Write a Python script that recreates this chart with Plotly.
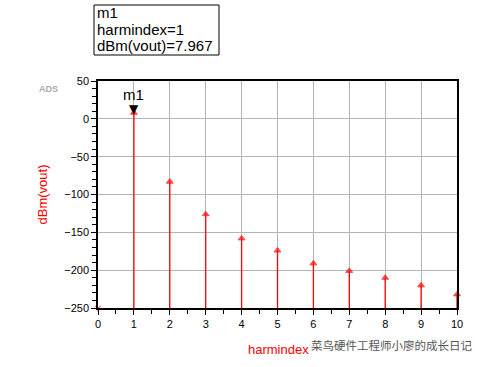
import plotly.graph_objects as go

harmindex = [0, 1, 2, 3, 4, 5, 6, 7, 8, 9, 10]
dbm_vout = [-250, 7.967, -83, -126, -158, -174, -191, -201, -210, -220, -232]
y_ticks = [50, 0, -50, -100, -150, -200, -250]
x_ticks = list(range(0, 11))
marker_name = "m1"
marker_idx = 1

RED = "#ff0000"
FONT = "Liberation Sans, Arial, sans-serif"

# plot area in pixels (for placing the readout box)
L, R, T, B = 98, 457, 81, 308
def px(x):
    return (x - L) / (R - L)
def py(y):
    return (B - y) / (B - T)

stem_x, stem_y = [], []
for h, v in zip(harmindex, dbm_vout):
    stem_x += [h, h, None]
    stem_y += [-250, v, None]

fig = go.Figure()
fig.add_trace(go.Scatter(x=stem_x, y=stem_y, mode="lines",
                         line=dict(color=RED, width=1.3), hoverinfo="skip",
                         showlegend=False))
symbols = ["y-down-open"] + ["triangle-up"] * (len(harmindex) - 1)
sizes = [5] + [6] * (len(harmindex) - 1)
fig.add_trace(go.Scatter(x=harmindex, y=dbm_vout, mode="markers",
                         marker=dict(color=RED, symbol=symbols, size=sizes,
                                     line=dict(color=RED, width=1)),
                         cliponaxis=False, showlegend=False))

# marker m1
fig.add_annotation(x=harmindex[marker_idx], y=dbm_vout[marker_idx], text="▼",
                   showarrow=False, yshift=4, yanchor="middle",
                   font=dict(size=12, color="black", family="DejaVu Sans"))
fig.add_annotation(x=harmindex[marker_idx], y=dbm_vout[marker_idx], text=marker_name,
                   showarrow=False, yshift=18, yanchor="middle",
                   font=dict(size=15, color="black", family=FONT))

# readout box
fig.add_shape(type="rect", xref="paper", yref="paper",
              x0=px(94), x1=px(219), y0=py(55), y1=py(5),
              line=dict(color="black", width=1), fillcolor="white")
lines = [marker_name, f"harmindex={harmindex[marker_idx]}",
         f"dBm(vout)={dbm_vout[marker_idx]:.3f}"]
for i, t in enumerate(lines):
    fig.add_annotation(xref="paper", yref="paper", x=px(95), y=py(13 + 16.5 * i),
                       xanchor="left", yanchor="middle", text=t, showarrow=False,
                       font=dict(size=15, color="black", family=FONT))

fig.add_annotation(xref="paper", yref="paper", x=px(48), y=py(89), text="<b>ADS</b>",
                   xanchor="center", yanchor="middle",
                   showarrow=False, font=dict(size=9, color="#aaaaaa", family=FONT))
fig.add_annotation(xref="paper", yref="paper", x=px(278), y=py(349), text="harmindex",
                   showarrow=False, xanchor="center", yanchor="middle",
                   font=dict(size=13, color=RED, family=FONT))
fig.add_annotation(xref="paper", yref="paper", x=px(474), y=py(345), xanchor="right",
                   yanchor="middle",
                   text="菜鸟硬件工程师小廖的成长日记", showarrow=False,
                   font=dict(size=11.5, color="#555555", family="Noto Sans CJK SC"))

fig.update_layout(
    width=489, height=367,
    margin=dict(l=L, r=489 - R, t=T, b=367 - B),
    paper_bgcolor="white", plot_bgcolor="white",
    font=dict(family=FONT, size=11, color="black"),
    xaxis=dict(range=[0, 10], tickvals=x_ticks, showgrid=True, gridcolor="#b4b4b4",
               gridwidth=1, showline=True, linecolor="black", linewidth=1.5, mirror=True,
               ticks="outside", ticklen=5, tickcolor="black", zeroline=False,
               minor=dict(dtick=0.5, ticks="outside", ticklen=4, tickcolor="black", showgrid=False)),
    yaxis=dict(range=[-250, 50], tickvals=y_ticks, showgrid=True, gridcolor="#b4b4b4",
               gridwidth=1, showline=True, linecolor="black", linewidth=1.5, mirror=True,
               ticks="outside", ticklen=5, tickcolor="black", zeroline=False,
               title=dict(text="dBm(vout)", font=dict(color=RED, size=13), standoff=14),
               minor=dict(dtick=10, ticks="outside", ticklen=4, tickcolor="black", showgrid=False)),
)

fig.write_html("out.html")
